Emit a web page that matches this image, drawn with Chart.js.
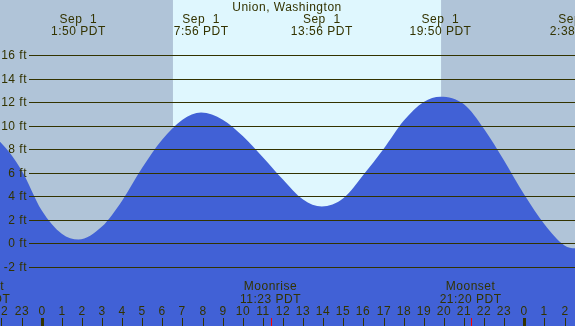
<!DOCTYPE html>
<html>
<head>
<meta charset="utf-8">
<script src="https://cdn.jsdelivr.net/npm/chart.js@4"></script>
<style>
  body { margin: 0; }
  #wrap { width: 575px; height: 326px; }
</style>
</head>
<body>
<div id="wrap"><canvas id="tideChart"></canvas></div>
<script>
// hours from midnight Sep 1 (negative = Aug 31, >24 = Sep 2)
const hours   = [-3, -2, -1, 0, 1, 1.83, 3, 4, 5, 6, 7, 7.93, 9, 10, 11, 12, 13, 13.93, 15, 16, 17, 18, 19, 19.83, 21, 22, 23, 24, 25, 26, 26.63, 27];
const heights = [9.6, 8.5, 6.2, 2.8, 0.8, 0.3, 1.4, 3.6, 6.4, 8.8, 10.5, 11.1, 10.5, 9.1, 7.3, 5.4, 3.7, 3.1, 3.8, 5.8, 8.0, 10.4, 12.0, 12.45, 11.8, 9.7, 7.0, 4.1, 1.6, -0.2, -0.45, -0.4];

const yTicks = [16, 14, 12, 10, 8, 6, 4, 2, 0, -2];

const tideTimes  = [1.83, 7.93, 13.93, 19.83, 26.63];
const tideLabels = ['1:50 PDT', '7:56 PDT', '13:56 PDT', '19:50 PDT', '2:38 PDT'];
const tideDates  = ['Sep  1', 'Sep  1', 'Sep  1', 'Sep  1', 'Sep  2'];

const moonTimes  = [-3.1, 11.38, 21.33];
const moonNames  = ['Moonset', 'Moonrise', 'Moonset'];
const moonLabels = ['20:54 PDT', '11:23 PDT', '21:20 PDT'];

const sunrise = 6.53;
const sunset = 19.86;

const title = 'Union, Washington';

const textColor = '#333300';
const font = '12px "Liberation Sans", Arial, sans-serif';

const tidePlugin = {
    id: 'tideDecor',
    beforeDatasetsDraw(chart) {
        const c = chart.ctx;
        const xs = chart.scales.x;
        c.save();
        c.fillStyle = '#b0c4d8';
        c.fillRect(0, 0, chart.width, chart.height);
        const x1 = xs.getPixelForValue(sunrise);
        const x2 = xs.getPixelForValue(sunset);
        c.fillStyle = '#dff7fe';
        c.fillRect(x1, 0, x2 - x1, chart.height);
        c.restore();
    },
    afterDatasetsDraw(chart) {
        const c = chart.ctx;
        const xs = chart.scales.x;
        const ys = chart.scales.y;
        c.save();
        c.font = font;
        c.letterSpacing = '0.5px';
        c.fillStyle = textColor;
        c.strokeStyle = textColor;
        c.lineWidth = 1;
        c.textBaseline = 'middle';

        // horizontal grid + ft labels
        yTicks.forEach(v => {
            const y = Math.round(ys.getPixelForValue(v)) + 0.5;
            c.beginPath();
            c.moveTo(29, y);
            c.lineTo(chart.width, y);
            c.stroke();
            c.textAlign = 'right';
            c.fillText(v + ' ft', 27, y);
        });

        // title and tide times
        c.textAlign = 'center';
        c.fillText(title, 287, 8);
        tideTimes.forEach((t, i) => {
            const x = xs.getPixelForValue(t);
            c.fillText(tideDates[i], x, 20);
            c.fillText(tideLabels[i], x, 32);
        });

        // moon rise / set
        moonTimes.forEach((t, i) => {
            const x = xs.getPixelForValue(t);
            c.fillText(moonNames[i], x, 287);
            c.fillText(moonLabels[i], x, 300);
            c.fillStyle = 'red';
            c.fillRect(Math.round(x), 318, 1, 8);
            c.fillStyle = textColor;
        });

        // hour ticks
        for (let h = -2; h <= 26; h++) {
            const x = Math.round(xs.getPixelForValue(h));
            const hr = ((h % 24) + 24) % 24;
            c.fillText(String(hr), x, 312);
            if (hr === 0) {
                c.fillRect(x - 1, 318, 3, 8);
            } else {
                c.fillRect(x, 318, 1, 8);
            }
        }
        c.restore();
    }
};

const ctx = document.getElementById('tideChart').getContext('2d');

const tideChart = new Chart(ctx, {
    type: 'line',
    data: {
        datasets: [{
            data: hours.map((h, i) => ({ x: h, y: heights[i] })),
            borderWidth: 0,
            borderColor: '#4161d6',
            backgroundColor: '#4161d6',
            fill: 'start',
            pointRadius: 0,
            cubicInterpolationMode: 'monotone'
        }]
    },
    options: {
        responsive: true,
        maintainAspectRatio: false,
        animation: false,
        layout: { padding: 0 },
        scales: {
            x: { type: 'linear', min: -2.07, max: 26.52, display: false },
            y: { min: -7.06, max: 20.68, display: false }
        },
        plugins: {
            legend: { display: false },
            tooltip: { enabled: false }
        }
    },
    plugins: [tidePlugin]
});
</script>
</body>
</html>
